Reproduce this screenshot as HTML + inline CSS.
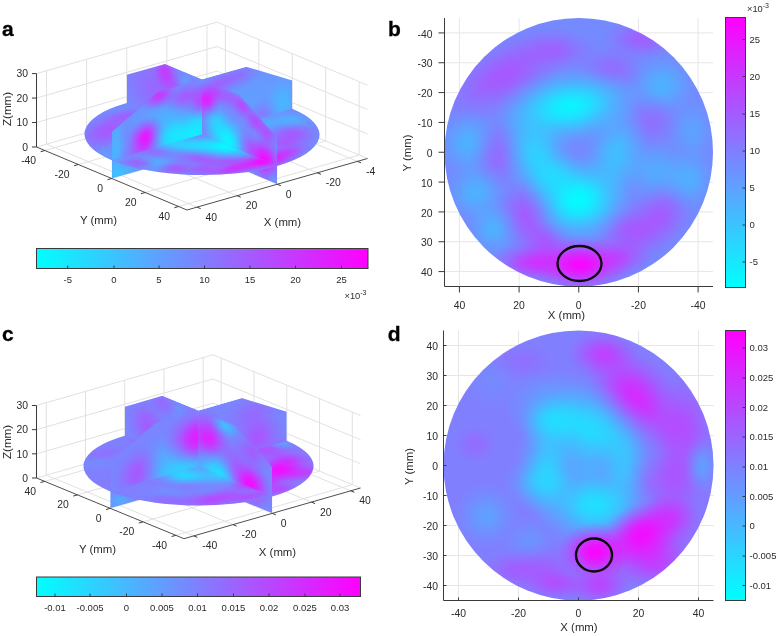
<!DOCTYPE html>
<html lang="en"><head><meta charset="utf-8"><title>Figure</title>
<style>html,body{margin:0;padding:0;background:#fff}svg{display:block}text{font-family:"Liberation Sans", sans-serif}</style>
</head><body>
<svg width="778" height="636" viewBox="0 0 778 636">
<rect width="778" height="636" fill="#fff"/>
<defs>
<radialGradient id="gm"><stop offset="0" stop-color="#ff00ff" stop-opacity="1"/><stop offset="0.1" stop-color="#ff00ff" stop-opacity="0.97"/><stop offset="0.2" stop-color="#ff00ff" stop-opacity="0.9"/><stop offset="0.3" stop-color="#ff00ff" stop-opacity="0.79"/><stop offset="0.4" stop-color="#ff00ff" stop-opacity="0.65"/><stop offset="0.5" stop-color="#ff00ff" stop-opacity="0.5"/><stop offset="0.6" stop-color="#ff00ff" stop-opacity="0.36"/><stop offset="0.7" stop-color="#ff00ff" stop-opacity="0.24"/><stop offset="0.8" stop-color="#ff00ff" stop-opacity="0.14"/><stop offset="0.9" stop-color="#ff00ff" stop-opacity="0.06"/><stop offset="1" stop-color="#ff00ff" stop-opacity="0"/></radialGradient>
<radialGradient id="gc"><stop offset="0" stop-color="#00ffff" stop-opacity="1"/><stop offset="0.1" stop-color="#00ffff" stop-opacity="0.97"/><stop offset="0.2" stop-color="#00ffff" stop-opacity="0.9"/><stop offset="0.3" stop-color="#00ffff" stop-opacity="0.79"/><stop offset="0.4" stop-color="#00ffff" stop-opacity="0.65"/><stop offset="0.5" stop-color="#00ffff" stop-opacity="0.5"/><stop offset="0.6" stop-color="#00ffff" stop-opacity="0.36"/><stop offset="0.7" stop-color="#00ffff" stop-opacity="0.24"/><stop offset="0.8" stop-color="#00ffff" stop-opacity="0.14"/><stop offset="0.9" stop-color="#00ffff" stop-opacity="0.06"/><stop offset="1" stop-color="#00ffff" stop-opacity="0"/></radialGradient>
<radialGradient id="gb"><stop offset="0" stop-color="#738cff" stop-opacity="1"/><stop offset="0.1" stop-color="#738cff" stop-opacity="0.97"/><stop offset="0.2" stop-color="#738cff" stop-opacity="0.9"/><stop offset="0.3" stop-color="#738cff" stop-opacity="0.79"/><stop offset="0.4" stop-color="#738cff" stop-opacity="0.65"/><stop offset="0.5" stop-color="#738cff" stop-opacity="0.5"/><stop offset="0.6" stop-color="#738cff" stop-opacity="0.36"/><stop offset="0.7" stop-color="#738cff" stop-opacity="0.24"/><stop offset="0.8" stop-color="#738cff" stop-opacity="0.14"/><stop offset="0.9" stop-color="#738cff" stop-opacity="0.06"/><stop offset="1" stop-color="#738cff" stop-opacity="0"/></radialGradient>
<linearGradient id="cbh" x1="0" x2="1" y1="0" y2="0"><stop offset="0" stop-color="#00ffff"/><stop offset="1" stop-color="#ff00ff"/></linearGradient>
<linearGradient id="cbv" x1="0" x2="0" y1="1" y2="0"><stop offset="0" stop-color="#00ffff"/><stop offset="1" stop-color="#ff00ff"/></linearGradient>
<g id="heatB"><rect x="-1" y="-1" width="92" height="92" fill="#758aff"/><ellipse cx="20" cy="19" rx="27.5" ry="12.5" fill="url(#gm)" opacity="0.36" transform="rotate(-30 20 19)"/>
<ellipse cx="38" cy="11" rx="15" ry="7.5" fill="url(#gm)" opacity="0.22"/>
<ellipse cx="66" cy="7" rx="13.75" ry="7.5" fill="url(#gm)" opacity="0.3"/>
<ellipse cx="56" cy="17" rx="12.5" ry="8.75" fill="url(#gm)" opacity="0.2"/>
<ellipse cx="73" cy="22.5" rx="12.5" ry="11.25" fill="url(#gc)" opacity="0.33"/>
<ellipse cx="69.6" cy="34.6" rx="10" ry="10" fill="url(#gm)" opacity="0.18"/>
<ellipse cx="8" cy="42" rx="11.25" ry="12.5" fill="url(#gc)" opacity="0.33"/>
<ellipse cx="18" cy="46" rx="10" ry="12.5" fill="url(#gm)" opacity="0.22"/>
<ellipse cx="28.5" cy="66.3" rx="12.5" ry="13.75" fill="url(#gm)" opacity="0.35" transform="rotate(-20 28.5 66.3)"/>
<ellipse cx="34" cy="75" rx="10" ry="7.5" fill="url(#gm)" opacity="0.3"/>
<ellipse cx="63.6" cy="71.8" rx="15" ry="11.25" fill="url(#gm)" opacity="0.36"/>
<ellipse cx="73" cy="65.7" rx="11.25" ry="11.25" fill="url(#gm)" opacity="0.3"/>
<ellipse cx="10.4" cy="58.5" rx="11.25" ry="11.25" fill="url(#gc)" opacity="0.33"/>
<ellipse cx="16.4" cy="70.6" rx="10" ry="10" fill="url(#gc)" opacity="0.33"/>
<ellipse cx="70.8" cy="51.2" rx="12.5" ry="11.25" fill="url(#gc)" opacity="0.28"/>
<ellipse cx="83" cy="38" rx="8.75" ry="12.5" fill="url(#gc)" opacity="0.2"/>
<ellipse cx="82" cy="54" rx="10" ry="11.25" fill="url(#gc)" opacity="0.3"/>
<ellipse cx="41.8" cy="29.7" rx="25" ry="13.12" fill="url(#gc)" opacity="0.9" transform="rotate(-8 41.8 29.7)"/>
<ellipse cx="31" cy="46" rx="12.5" ry="18.75" fill="url(#gc)" opacity="0.6" transform="rotate(-20 31 46)"/>
<ellipse cx="57.5" cy="46" rx="11.25" ry="17.5" fill="url(#gc)" opacity="0.45" transform="rotate(10 57.5 46)"/>
<ellipse cx="37" cy="53" rx="11.25" ry="8.75" fill="url(#gc)" opacity="0.4"/>
<ellipse cx="44.8" cy="60.9" rx="18.75" ry="15.62" fill="url(#gc)" opacity="0.97"/>
<ellipse cx="45.4" cy="82.7" rx="17.5" ry="10" fill="url(#gm)" opacity="0.95"/>
<ellipse cx="30" cy="82" rx="15" ry="7.5" fill="url(#gm)" opacity="0.6"/>
<ellipse cx="58" cy="80.5" rx="12.5" ry="7.5" fill="url(#gm)" opacity="0.4"/></g>
<g id="heatD"><rect x="-1" y="-1" width="92" height="92" fill="#8080ff"/><ellipse cx="76" cy="45" rx="20" ry="42.5" fill="url(#gm)" opacity="0.18"/>
<ellipse cx="26.4" cy="10.2" rx="12.5" ry="7.5" fill="url(#gm)" opacity="0.12"/>
<ellipse cx="16" cy="17" rx="10" ry="10" fill="url(#gc)" opacity="0.08"/>
<ellipse cx="10.7" cy="37.9" rx="8.75" ry="7.5" fill="url(#gm)" opacity="0.15"/>
<ellipse cx="14.3" cy="61.7" rx="11.25" ry="11.25" fill="url(#gc)" opacity="0.25"/>
<ellipse cx="28.7" cy="70.2" rx="10" ry="8.75" fill="url(#gc)" opacity="0.15"/>
<ellipse cx="22.7" cy="79.8" rx="11.25" ry="7.5" fill="url(#gm)" opacity="0.2"/>
<ellipse cx="38.4" cy="84.6" rx="12.5" ry="6.25" fill="url(#gm)" opacity="0.3"/>
<ellipse cx="80" cy="32" rx="11.25" ry="17.5" fill="url(#gm)" opacity="0.3"/>
<ellipse cx="77" cy="49" rx="10" ry="11.25" fill="url(#gm)" opacity="0.2"/>
<ellipse cx="63.7" cy="22.2" rx="13.75" ry="21.25" fill="url(#gm)" opacity="0.65" transform="rotate(-35 63.7 22.2)"/>
<ellipse cx="52.8" cy="7.8" rx="12.5" ry="8.75" fill="url(#gm)" opacity="0.45"/>
<ellipse cx="35" cy="45" rx="11.25" ry="20" fill="url(#gc)" opacity="0.55"/>
<ellipse cx="36" cy="30" rx="11.25" ry="8.75" fill="url(#gc)" opacity="0.45"/>
<ellipse cx="60" cy="46" rx="8.75" ry="15" fill="url(#gc)" opacity="0.4"/>
<ellipse cx="47" cy="45" rx="10" ry="10" fill="url(#gc)" opacity="0.2"/>
<ellipse cx="86" cy="45" rx="6.25" ry="10" fill="url(#gc)" opacity="0.3"/>
<ellipse cx="33" cy="80" rx="15" ry="10" fill="url(#gm)" opacity="0.25"/>
<ellipse cx="52" cy="85" rx="11.25" ry="7.5" fill="url(#gm)" opacity="0.45"/>
<ellipse cx="32.4" cy="50.9" rx="12.5" ry="10" fill="url(#gc)" opacity="0.4"/>
<ellipse cx="48" cy="32.5" rx="30" ry="16.25" fill="url(#gc)" opacity="0.72" transform="rotate(25 48 32.5)"/>
<ellipse cx="50.4" cy="58.1" rx="21.25" ry="15" fill="url(#gc)" opacity="0.75"/>
<ellipse cx="66" cy="71" rx="22.5" ry="13.75" fill="url(#gm)" opacity="0.5" transform="rotate(-25 66 71)"/>
<ellipse cx="70.9" cy="77.4" rx="12.5" ry="10" fill="url(#gm)" opacity="0.4"/>
<ellipse cx="75.7" cy="61.7" rx="10" ry="8.75" fill="url(#gm)" opacity="0.4"/>
<ellipse cx="66" cy="67.7" rx="13.75" ry="10" fill="url(#gm)" opacity="0.8" transform="rotate(-25 66 67.7)"/>
<ellipse cx="50.4" cy="73.8" rx="12.5" ry="10" fill="url(#gm)" opacity="0.95"/></g>
</defs>
<g shape-rendering="auto"><line x1="46.53" y1="144.14" x2="197.03" y2="207.14" stroke="#e1e1e1" stroke-width="1"/><line x1="44.86" y1="150.5" x2="225.36" y2="99" stroke="#e1e1e1" stroke-width="1"/><line x1="86.64" y1="132.69" x2="237.14" y2="195.69" stroke="#e1e1e1" stroke-width="1"/><line x1="78.31" y1="164.5" x2="258.81" y2="113" stroke="#e1e1e1" stroke-width="1"/><line x1="126.75" y1="121.25" x2="277.25" y2="184.25" stroke="#e1e1e1" stroke-width="1"/><line x1="111.75" y1="178.5" x2="292.25" y2="127" stroke="#e1e1e1" stroke-width="1"/><line x1="166.86" y1="109.81" x2="317.36" y2="172.81" stroke="#e1e1e1" stroke-width="1"/><line x1="145.19" y1="192.5" x2="325.69" y2="141" stroke="#e1e1e1" stroke-width="1"/><line x1="206.97" y1="98.36" x2="357.47" y2="161.36" stroke="#e1e1e1" stroke-width="1"/><line x1="178.64" y1="206.5" x2="359.14" y2="155" stroke="#e1e1e1" stroke-width="1"/><line x1="46.53" y1="144.14" x2="46.53" y2="70.74" stroke="#e1e1e1" stroke-width="1"/><line x1="225.36" y1="99" x2="225.36" y2="25.6" stroke="#e1e1e1" stroke-width="1"/><line x1="86.64" y1="132.69" x2="86.64" y2="59.29" stroke="#e1e1e1" stroke-width="1"/><line x1="258.81" y1="113" x2="258.81" y2="39.6" stroke="#e1e1e1" stroke-width="1"/><line x1="126.75" y1="121.25" x2="126.75" y2="47.85" stroke="#e1e1e1" stroke-width="1"/><line x1="292.25" y1="127" x2="292.25" y2="53.6" stroke="#e1e1e1" stroke-width="1"/><line x1="166.86" y1="109.81" x2="166.86" y2="36.41" stroke="#e1e1e1" stroke-width="1"/><line x1="325.69" y1="141" x2="325.69" y2="67.6" stroke="#e1e1e1" stroke-width="1"/><line x1="206.97" y1="98.36" x2="206.97" y2="24.96" stroke="#e1e1e1" stroke-width="1"/><line x1="359.14" y1="155" x2="359.14" y2="81.6" stroke="#e1e1e1" stroke-width="1"/><line x1="36.5" y1="147" x2="217" y2="95.5" stroke="#e1e1e1" stroke-width="1"/><line x1="217" y1="95.5" x2="367.5" y2="158.5" stroke="#e1e1e1" stroke-width="1"/><line x1="36.5" y1="122.53" x2="217" y2="71.03" stroke="#e1e1e1" stroke-width="1"/><line x1="217" y1="71.03" x2="367.5" y2="134.03" stroke="#e1e1e1" stroke-width="1"/><line x1="36.5" y1="98.07" x2="217" y2="46.57" stroke="#e1e1e1" stroke-width="1"/><line x1="217" y1="46.57" x2="367.5" y2="109.57" stroke="#e1e1e1" stroke-width="1"/><line x1="36.5" y1="73.6" x2="217" y2="22.1" stroke="#e1e1e1" stroke-width="1"/><line x1="217" y1="22.1" x2="367.5" y2="85.1" stroke="#e1e1e1" stroke-width="1"/></g>
<defs>
<clipPath id="adisc"><circle cx="45" cy="45" r="45"/></clipPath>
<clipPath id="aprof"><polygon points="0,0 0,19 23,30 67,30 90,19 90,0"/></clipPath>
<clipPath id="aq1"><rect x="45" y="-5" width="50" height="50"/></clipPath>
<clipPath id="aq2"><rect x="-5" y="-5" width="50" height="50"/></clipPath>
<clipPath id="aq3"><rect x="45" y="45" width="50" height="50"/></clipPath>
<clipPath id="aq4"><rect x="-5" y="45" width="50" height="50"/></clipPath>
<clipPath id="ahb"><rect x="-1" y="-1" width="46" height="40"/></clipPath>
<clipPath id="ahf"><rect x="45" y="-1" width="46" height="40"/></clipPath>
<g id="adiscg" clip-path="url(#adisc)"><use href="#heatB"/><ellipse cx="9" cy="42" rx="7.5" ry="10" fill="url(#gm)" opacity="0.3"/>
<ellipse cx="6" cy="54" rx="7.5" ry="10" fill="url(#gm)" opacity="0.35"/>
<ellipse cx="13.7" cy="68" rx="10" ry="10" fill="url(#gm)" opacity="0.45"/>
<ellipse cx="20" cy="75" rx="10" ry="8.75" fill="url(#gm)" opacity="0.4"/></g>
<g id="aplU" clip-path="url(#aprof)"><rect x="-1" y="-1" width="92" height="32" fill="#738cff"/><ellipse cx="22" cy="18" rx="34" ry="20" fill="url(#gm)" opacity="0.28"/>
<ellipse cx="23" cy="26.5" rx="8" ry="8" fill="url(#gm)" opacity="0.5"/>
<ellipse cx="30" cy="19" rx="8" ry="8" fill="url(#gm)" opacity="0.3"/>
<ellipse cx="36" cy="24.7" rx="8" ry="8" fill="url(#gc)" opacity="0.25"/>
<ellipse cx="41" cy="19.5" rx="8" ry="10" fill="url(#gm)" opacity="0.6"/>
<ellipse cx="48.3" cy="22" rx="8" ry="8" fill="url(#gm)" opacity="0.8"/>
<ellipse cx="53" cy="27" rx="8" ry="6" fill="url(#gm)" opacity="0.45"/>
<ellipse cx="61" cy="27.5" rx="8" ry="6" fill="url(#gm)" opacity="0.3"/>
<ellipse cx="69" cy="26" rx="8" ry="6" fill="url(#gm)" opacity="0.45"/>
<ellipse cx="77" cy="22" rx="8" ry="6" fill="url(#gm)" opacity="0.45"/>
<ellipse cx="84" cy="19" rx="8" ry="6" fill="url(#gm)" opacity="0.4"/>
<ellipse cx="71.4" cy="9.8" rx="10" ry="8" fill="url(#gm)" opacity="0.35"/>
<ellipse cx="53" cy="14.6" rx="10" ry="10" fill="url(#gc)" opacity="0.5"/>
<ellipse cx="60.5" cy="9.2" rx="14" ry="12" fill="url(#gc)" opacity="0.9"/>
<ellipse cx="82.4" cy="8" rx="12" ry="10" fill="url(#gm)" opacity="0.9"/>
<ellipse cx="87.5" cy="2.5" rx="6" ry="6" fill="url(#gc)" opacity="0.15"/></g>
<g id="aplV" clip-path="url(#aprof)"><rect x="-1" y="-1" width="92" height="32" fill="#738cff"/><ellipse cx="2" cy="10" rx="6" ry="24" fill="url(#gc)" opacity="0.35"/>
<ellipse cx="8" cy="2" rx="14" ry="6" fill="url(#gc)" opacity="0.5"/>
<ellipse cx="15" cy="5" rx="16" ry="8" fill="url(#gm)" opacity="0.3"/>
<ellipse cx="27" cy="19" rx="12" ry="8" fill="url(#gc)" opacity="0.2"/>
<ellipse cx="37" cy="25" rx="12" ry="6" fill="url(#gm)" opacity="0.35"/>
<ellipse cx="18" cy="21" rx="16" ry="8" fill="url(#gc)" opacity="0.15"/>
<ellipse cx="23.3" cy="28.5" rx="10" ry="6" fill="url(#gm)" opacity="0.6"/>
<ellipse cx="17" cy="12.5" rx="10" ry="9" fill="url(#gm)" opacity="0.85"/>
<ellipse cx="30.4" cy="10" rx="14" ry="12" fill="url(#gc)" opacity="0.7"/>
<ellipse cx="39.6" cy="8" rx="16" ry="12" fill="url(#gc)" opacity="0.75"/>
<ellipse cx="45" cy="12" rx="10" ry="12" fill="url(#gc)" opacity="0.55"/>
<ellipse cx="45" cy="21" rx="8" ry="8" fill="url(#gm)" opacity="0.55"/>
<ellipse cx="70" cy="15" rx="40" ry="24" fill="url(#gc)" opacity="0.15"/>
<ellipse cx="52" cy="25.5" rx="10" ry="6" fill="url(#gm)" opacity="0.3"/>
<ellipse cx="62" cy="27" rx="14" ry="6" fill="url(#gm)" opacity="0.25"/>
<ellipse cx="75" cy="8" rx="10" ry="8" fill="url(#gm)" opacity="0.2"/>
<ellipse cx="85.5" cy="11" rx="10" ry="12" fill="url(#gc)" opacity="0.3"/></g>
</defs>
<g transform="matrix(2.0056 -0.5722 1.6722 0.7 36.5 128.65)"><g clip-path="url(#aq1)"><use href="#adiscg"/></g></g>
<g transform="matrix(1.6722 0.7 0 -2.4467 126.75 121.25)"><g clip-path="url(#ahb)"><use href="#aplU"/></g></g>
<g transform="matrix(2.0056 -0.5722 0 -2.4467 111.75 178.5)"><g clip-path="url(#ahf)"><use href="#aplV"/></g></g>
<g transform="matrix(2.0056 -0.5722 1.6722 0.7 36.5 128.65)"><g clip-path="url(#aq2)"><use href="#adiscg"/></g></g>
<g transform="matrix(2.0056 -0.5722 1.6722 0.7 36.5 128.65)"><g clip-path="url(#aq3)"><use href="#adiscg"/></g></g>
<g transform="matrix(2.0056 -0.5722 0 -2.4467 111.75 178.5)"><g clip-path="url(#ahb)"><use href="#aplV"/></g></g>
<g transform="matrix(1.6722 0.7 0 -2.4467 126.75 121.25)"><g clip-path="url(#ahf)"><use href="#aplU"/></g></g>
<g transform="matrix(2.0056 -0.5722 1.6722 0.7 36.5 128.65)"><g clip-path="url(#aq4)"><use href="#adiscg"/></g></g>
<line x1="36.5" y1="147" x2="36.5" y2="73.6" stroke="#3a3a3a" stroke-width="1"/><line x1="36.5" y1="147" x2="187" y2="210" stroke="#3a3a3a" stroke-width="0.9"/><line x1="187" y1="210" x2="367.5" y2="158.5" stroke="#3a3a3a" stroke-width="0.9"/><line x1="36.5" y1="147" x2="32" y2="147" stroke="#3a3a3a" stroke-width="1"/><line x1="36.5" y1="122.53" x2="32" y2="122.53" stroke="#3a3a3a" stroke-width="1"/><line x1="36.5" y1="98.07" x2="32" y2="98.07" stroke="#3a3a3a" stroke-width="1"/><line x1="36.5" y1="73.6" x2="32" y2="73.6" stroke="#3a3a3a" stroke-width="1"/><line x1="44.86" y1="150.5" x2="40.66" y2="151.7" stroke="#3a3a3a" stroke-width="1"/><line x1="197.03" y1="207.14" x2="200.63" y2="208.64" stroke="#3a3a3a" stroke-width="1"/><line x1="78.31" y1="164.5" x2="74.11" y2="165.7" stroke="#3a3a3a" stroke-width="1"/><line x1="237.14" y1="195.69" x2="240.74" y2="197.19" stroke="#3a3a3a" stroke-width="1"/><line x1="111.75" y1="178.5" x2="107.55" y2="179.7" stroke="#3a3a3a" stroke-width="1"/><line x1="277.25" y1="184.25" x2="280.85" y2="185.75" stroke="#3a3a3a" stroke-width="1"/><line x1="145.19" y1="192.5" x2="140.99" y2="193.7" stroke="#3a3a3a" stroke-width="1"/><line x1="317.36" y1="172.81" x2="320.96" y2="174.31" stroke="#3a3a3a" stroke-width="1"/><line x1="178.64" y1="206.5" x2="174.44" y2="207.7" stroke="#3a3a3a" stroke-width="1"/><line x1="357.47" y1="161.36" x2="361.07" y2="162.86" stroke="#3a3a3a" stroke-width="1"/>
<text x="28" y="150.7" font-size="10.4" text-anchor="end" font-weight="normal" fill="#2b2b2b">0</text><text x="28" y="126.23" font-size="10.4" text-anchor="end" font-weight="normal" fill="#2b2b2b">10</text><text x="28" y="101.77" font-size="10.4" text-anchor="end" font-weight="normal" fill="#2b2b2b">20</text><text x="28" y="77.3" font-size="10.4" text-anchor="end" font-weight="normal" fill="#2b2b2b">30</text><text x="36.16" y="164.1" font-size="10.4" text-anchor="end" font-weight="normal" fill="#2b2b2b">-40</text><text x="69.61" y="178.1" font-size="10.4" text-anchor="end" font-weight="normal" fill="#2b2b2b">-20</text><text x="103.05" y="192.1" font-size="10.4" text-anchor="end" font-weight="normal" fill="#2b2b2b">0</text><text x="136.49" y="206.1" font-size="10.4" text-anchor="end" font-weight="normal" fill="#2b2b2b">20</text><text x="169.94" y="220.1" font-size="10.4" text-anchor="end" font-weight="normal" fill="#2b2b2b">40</text><text x="205.53" y="220.74" font-size="10.4" text-anchor="start" font-weight="normal" fill="#2b2b2b">40</text><text x="245.64" y="209.29" font-size="10.4" text-anchor="start" font-weight="normal" fill="#2b2b2b">20</text><text x="285.75" y="197.85" font-size="10.4" text-anchor="start" font-weight="normal" fill="#2b2b2b">0</text><text x="325.86" y="186.41" font-size="10.4" text-anchor="start" font-weight="normal" fill="#2b2b2b">-20</text><text x="365.97" y="174.96" font-size="10.4" text-anchor="start" font-weight="normal" fill="#2b2b2b">-4</text><text x="98.5" y="224" font-size="11.4" text-anchor="middle" font-weight="normal" fill="#2b2b2b">Y (mm)</text><text x="282.5" y="226" font-size="11.4" text-anchor="middle" font-weight="normal" fill="#2b2b2b">X (mm)</text><text transform="translate(11 109) rotate(-90)" font-size="11.6" text-anchor="middle" fill="#2b2b2b">Z(mm)</text>
<rect x="36.5" y="248.5" width="331.5" height="20" fill="url(#cbh)" stroke="#3a3a3a" stroke-width="1"/>
<line x1="67.7" y1="268.5" x2="67.7" y2="265.5" stroke="#3a3a3a" stroke-width="1"/>
<text x="67.7" y="283" font-size="9.5" text-anchor="middle" font-weight="normal" fill="#2b2b2b">-5</text>
<line x1="114" y1="268.5" x2="114" y2="265.5" stroke="#3a3a3a" stroke-width="1"/>
<text x="114" y="283" font-size="9.5" text-anchor="middle" font-weight="normal" fill="#2b2b2b">0</text>
<line x1="159" y1="268.5" x2="159" y2="265.5" stroke="#3a3a3a" stroke-width="1"/>
<text x="159" y="283" font-size="9.5" text-anchor="middle" font-weight="normal" fill="#2b2b2b">5</text>
<line x1="204.5" y1="268.5" x2="204.5" y2="265.5" stroke="#3a3a3a" stroke-width="1"/>
<text x="204.5" y="283" font-size="9.5" text-anchor="middle" font-weight="normal" fill="#2b2b2b">10</text>
<line x1="250" y1="268.5" x2="250" y2="265.5" stroke="#3a3a3a" stroke-width="1"/>
<text x="250" y="283" font-size="9.5" text-anchor="middle" font-weight="normal" fill="#2b2b2b">15</text>
<line x1="295.5" y1="268.5" x2="295.5" y2="265.5" stroke="#3a3a3a" stroke-width="1"/>
<text x="295.5" y="283" font-size="9.5" text-anchor="middle" font-weight="normal" fill="#2b2b2b">20</text>
<line x1="341.5" y1="268.5" x2="341.5" y2="265.5" stroke="#3a3a3a" stroke-width="1"/>
<text x="341.5" y="283" font-size="9.5" text-anchor="middle" font-weight="normal" fill="#2b2b2b">25</text>
<text x="344.5" y="298.5" font-size="9.3" fill="#2b2b2b">×10<tspan dy="-3.8" font-size="7">-3</tspan></text>
<text x="2" y="36" font-size="21" text-anchor="start" font-weight="bold" fill="#000" stroke="#000" stroke-width="0.3">a</text>
<line x1="459.42" y1="18" x2="459.42" y2="286.5" stroke="#e6e6e6" stroke-width="1"/><line x1="519.08" y1="18" x2="519.08" y2="286.5" stroke="#e6e6e6" stroke-width="1"/><line x1="578.75" y1="18" x2="578.75" y2="286.5" stroke="#e6e6e6" stroke-width="1"/><line x1="638.42" y1="18" x2="638.42" y2="286.5" stroke="#e6e6e6" stroke-width="1"/><line x1="698.08" y1="18" x2="698.08" y2="286.5" stroke="#e6e6e6" stroke-width="1"/><line x1="444.5" y1="32.92" x2="713" y2="32.92" stroke="#e6e6e6" stroke-width="1"/><line x1="444.5" y1="62.75" x2="713" y2="62.75" stroke="#e6e6e6" stroke-width="1"/><line x1="444.5" y1="92.58" x2="713" y2="92.58" stroke="#e6e6e6" stroke-width="1"/><line x1="444.5" y1="122.42" x2="713" y2="122.42" stroke="#e6e6e6" stroke-width="1"/><line x1="444.5" y1="152.25" x2="713" y2="152.25" stroke="#e6e6e6" stroke-width="1"/><line x1="444.5" y1="182.08" x2="713" y2="182.08" stroke="#e6e6e6" stroke-width="1"/><line x1="444.5" y1="211.92" x2="713" y2="211.92" stroke="#e6e6e6" stroke-width="1"/><line x1="444.5" y1="241.75" x2="713" y2="241.75" stroke="#e6e6e6" stroke-width="1"/><line x1="444.5" y1="271.58" x2="713" y2="271.58" stroke="#e6e6e6" stroke-width="1"/>
<defs><clipPath id="bdisc"><circle cx="45" cy="45" r="45"/></clipPath></defs>
<g transform="translate(444.5 18) scale(2.9833)"><g clip-path="url(#bdisc)"><use href="#heatB"/></g></g>
<line x1="444.5" y1="18" x2="444.5" y2="286.5" stroke="#3a3a3a" stroke-width="1"/>
<line x1="444.5" y1="286.5" x2="713" y2="286.5" stroke="#3a3a3a" stroke-width="1"/>
<line x1="459.42" y1="286.5" x2="459.42" y2="292.5" stroke="#3a3a3a" stroke-width="1"/>
<text x="459.42" y="308.5" font-size="10.4" text-anchor="middle" font-weight="normal" fill="#2b2b2b">40</text>
<line x1="519.08" y1="286.5" x2="519.08" y2="292.5" stroke="#3a3a3a" stroke-width="1"/>
<text x="519.08" y="308.5" font-size="10.4" text-anchor="middle" font-weight="normal" fill="#2b2b2b">20</text>
<line x1="578.75" y1="286.5" x2="578.75" y2="292.5" stroke="#3a3a3a" stroke-width="1"/>
<text x="578.75" y="308.5" font-size="10.4" text-anchor="middle" font-weight="normal" fill="#2b2b2b">0</text>
<line x1="638.42" y1="286.5" x2="638.42" y2="292.5" stroke="#3a3a3a" stroke-width="1"/>
<text x="638.42" y="308.5" font-size="10.4" text-anchor="middle" font-weight="normal" fill="#2b2b2b">-20</text>
<line x1="698.08" y1="286.5" x2="698.08" y2="292.5" stroke="#3a3a3a" stroke-width="1"/>
<text x="698.08" y="308.5" font-size="10.4" text-anchor="middle" font-weight="normal" fill="#2b2b2b">-40</text>
<line x1="444.5" y1="32.92" x2="438.5" y2="32.92" stroke="#3a3a3a" stroke-width="1"/>
<text x="432.5" y="37.62" font-size="10.4" text-anchor="end" font-weight="normal" fill="#2b2b2b">-40</text>
<line x1="444.5" y1="62.75" x2="438.5" y2="62.75" stroke="#3a3a3a" stroke-width="1"/>
<text x="432.5" y="67.45" font-size="10.4" text-anchor="end" font-weight="normal" fill="#2b2b2b">-30</text>
<line x1="444.5" y1="92.58" x2="438.5" y2="92.58" stroke="#3a3a3a" stroke-width="1"/>
<text x="432.5" y="97.28" font-size="10.4" text-anchor="end" font-weight="normal" fill="#2b2b2b">-20</text>
<line x1="444.5" y1="122.42" x2="438.5" y2="122.42" stroke="#3a3a3a" stroke-width="1"/>
<text x="432.5" y="127.12" font-size="10.4" text-anchor="end" font-weight="normal" fill="#2b2b2b">-10</text>
<line x1="444.5" y1="152.25" x2="438.5" y2="152.25" stroke="#3a3a3a" stroke-width="1"/>
<text x="432.5" y="156.95" font-size="10.4" text-anchor="end" font-weight="normal" fill="#2b2b2b">0</text>
<line x1="444.5" y1="182.08" x2="438.5" y2="182.08" stroke="#3a3a3a" stroke-width="1"/>
<text x="432.5" y="186.78" font-size="10.4" text-anchor="end" font-weight="normal" fill="#2b2b2b">10</text>
<line x1="444.5" y1="211.92" x2="438.5" y2="211.92" stroke="#3a3a3a" stroke-width="1"/>
<text x="432.5" y="216.62" font-size="10.4" text-anchor="end" font-weight="normal" fill="#2b2b2b">20</text>
<line x1="444.5" y1="241.75" x2="438.5" y2="241.75" stroke="#3a3a3a" stroke-width="1"/>
<text x="432.5" y="246.45" font-size="10.4" text-anchor="end" font-weight="normal" fill="#2b2b2b">30</text>
<line x1="444.5" y1="271.58" x2="438.5" y2="271.58" stroke="#3a3a3a" stroke-width="1"/>
<text x="432.5" y="276.28" font-size="10.4" text-anchor="end" font-weight="normal" fill="#2b2b2b">40</text>
<ellipse cx="579.5" cy="263.5" rx="22" ry="17.5" fill="none" stroke="#0a0a0a" stroke-width="2.4"/>
<text x="566.5" y="319" font-size="11.4" text-anchor="middle" font-weight="normal" fill="#2b2b2b">X (mm)</text>
<text transform="translate(411 153) rotate(-90)" font-size="11.4" text-anchor="middle" fill="#2b2b2b">Y (mm)</text>
<rect x="725.5" y="17.5" width="20" height="270" fill="url(#cbv)" stroke="#3a3a3a" stroke-width="1"/>
<line x1="745.5" y1="39.5" x2="742.5" y2="39.5" stroke="#3a3a3a" stroke-width="1"/>
<text x="749.5" y="42.9" font-size="9.5" text-anchor="start" font-weight="normal" fill="#2b2b2b">25</text>
<line x1="745.5" y1="76.5" x2="742.5" y2="76.5" stroke="#3a3a3a" stroke-width="1"/>
<text x="749.5" y="79.9" font-size="9.5" text-anchor="start" font-weight="normal" fill="#2b2b2b">20</text>
<line x1="745.5" y1="114" x2="742.5" y2="114" stroke="#3a3a3a" stroke-width="1"/>
<text x="749.5" y="117.4" font-size="9.5" text-anchor="start" font-weight="normal" fill="#2b2b2b">15</text>
<line x1="745.5" y1="151" x2="742.5" y2="151" stroke="#3a3a3a" stroke-width="1"/>
<text x="749.5" y="154.4" font-size="9.5" text-anchor="start" font-weight="normal" fill="#2b2b2b">10</text>
<line x1="745.5" y1="188" x2="742.5" y2="188" stroke="#3a3a3a" stroke-width="1"/>
<text x="749.5" y="191.4" font-size="9.5" text-anchor="start" font-weight="normal" fill="#2b2b2b">5</text>
<line x1="745.5" y1="225" x2="742.5" y2="225" stroke="#3a3a3a" stroke-width="1"/>
<text x="749.5" y="228.4" font-size="9.5" text-anchor="start" font-weight="normal" fill="#2b2b2b">0</text>
<line x1="745.5" y1="262" x2="742.5" y2="262" stroke="#3a3a3a" stroke-width="1"/>
<text x="749.5" y="265.4" font-size="9.5" text-anchor="start" font-weight="normal" fill="#2b2b2b">-5</text>
<text x="747" y="12" font-size="9.3" fill="#2b2b2b">×10<tspan dy="-3.8" font-size="7">-3</tspan></text>
<text x="388" y="36" font-size="21" text-anchor="start" font-weight="bold" fill="#000" stroke="#000" stroke-width="0.3">b</text>
<g shape-rendering="auto"><line x1="46.31" y1="475.18" x2="193.81" y2="535.88" stroke="#e1e1e1" stroke-width="1"/><line x1="44.69" y1="481.37" x2="221.19" y2="430.67" stroke="#e1e1e1" stroke-width="1"/><line x1="85.53" y1="463.92" x2="233.03" y2="524.62" stroke="#e1e1e1" stroke-width="1"/><line x1="77.47" y1="494.86" x2="253.97" y2="444.16" stroke="#e1e1e1" stroke-width="1"/><line x1="124.75" y1="452.65" x2="272.25" y2="513.35" stroke="#e1e1e1" stroke-width="1"/><line x1="110.25" y1="508.35" x2="286.75" y2="457.65" stroke="#e1e1e1" stroke-width="1"/><line x1="163.97" y1="441.38" x2="311.47" y2="502.08" stroke="#e1e1e1" stroke-width="1"/><line x1="143.03" y1="521.84" x2="319.53" y2="471.14" stroke="#e1e1e1" stroke-width="1"/><line x1="203.19" y1="430.12" x2="350.69" y2="490.82" stroke="#e1e1e1" stroke-width="1"/><line x1="175.81" y1="535.33" x2="352.31" y2="484.63" stroke="#e1e1e1" stroke-width="1"/><line x1="46.31" y1="475.18" x2="46.31" y2="402.68" stroke="#e1e1e1" stroke-width="1"/><line x1="221.19" y1="430.67" x2="221.19" y2="358.17" stroke="#e1e1e1" stroke-width="1"/><line x1="85.53" y1="463.92" x2="85.53" y2="391.42" stroke="#e1e1e1" stroke-width="1"/><line x1="253.97" y1="444.16" x2="253.97" y2="371.66" stroke="#e1e1e1" stroke-width="1"/><line x1="124.75" y1="452.65" x2="124.75" y2="380.15" stroke="#e1e1e1" stroke-width="1"/><line x1="286.75" y1="457.65" x2="286.75" y2="385.15" stroke="#e1e1e1" stroke-width="1"/><line x1="163.97" y1="441.38" x2="163.97" y2="368.88" stroke="#e1e1e1" stroke-width="1"/><line x1="319.53" y1="471.14" x2="319.53" y2="398.64" stroke="#e1e1e1" stroke-width="1"/><line x1="203.19" y1="430.12" x2="203.19" y2="357.62" stroke="#e1e1e1" stroke-width="1"/><line x1="352.31" y1="484.63" x2="352.31" y2="412.13" stroke="#e1e1e1" stroke-width="1"/><line x1="36.5" y1="478" x2="213" y2="427.3" stroke="#e1e1e1" stroke-width="1"/><line x1="213" y1="427.3" x2="360.5" y2="488" stroke="#e1e1e1" stroke-width="1"/><line x1="36.5" y1="453.83" x2="213" y2="403.13" stroke="#e1e1e1" stroke-width="1"/><line x1="213" y1="403.13" x2="360.5" y2="463.83" stroke="#e1e1e1" stroke-width="1"/><line x1="36.5" y1="429.67" x2="213" y2="378.97" stroke="#e1e1e1" stroke-width="1"/><line x1="213" y1="378.97" x2="360.5" y2="439.67" stroke="#e1e1e1" stroke-width="1"/><line x1="36.5" y1="405.5" x2="213" y2="354.8" stroke="#e1e1e1" stroke-width="1"/><line x1="213" y1="354.8" x2="360.5" y2="415.5" stroke="#e1e1e1" stroke-width="1"/></g>
<defs>
<clipPath id="cdisc"><circle cx="45" cy="45" r="45"/></clipPath>
<clipPath id="cprof"><polygon points="0,0 0,19 23,30 67,30 90,19 90,0"/></clipPath>
<clipPath id="cq1"><rect x="45" y="-5" width="50" height="50"/></clipPath>
<clipPath id="cq2"><rect x="-5" y="-5" width="50" height="50"/></clipPath>
<clipPath id="cq3"><rect x="45" y="45" width="50" height="50"/></clipPath>
<clipPath id="cq4"><rect x="-5" y="45" width="50" height="50"/></clipPath>
<clipPath id="chb"><rect x="-1" y="-1" width="46" height="40"/></clipPath>
<clipPath id="chf"><rect x="45" y="-1" width="46" height="40"/></clipPath>
<g id="cdiscg" clip-path="url(#cdisc)"><use href="#heatD"/><ellipse cx="12" cy="65" rx="10" ry="12.5" fill="url(#gm)" opacity="0.25"/>
<ellipse cx="25" cy="75" rx="17.5" ry="10" fill="url(#gm)" opacity="0.3"/></g>
<g id="cplU" clip-path="url(#cprof)"><rect x="-1" y="-1" width="92" height="32" fill="#7a85ff"/><ellipse cx="14" cy="15" rx="14" ry="12" fill="url(#gm)" opacity="0.3"/>
<ellipse cx="22.7" cy="26.8" rx="10" ry="6" fill="url(#gm)" opacity="0.2"/>
<ellipse cx="35" cy="25" rx="8" ry="8" fill="url(#gc)" opacity="0.15"/>
<ellipse cx="40" cy="20" rx="10" ry="12" fill="url(#gm)" opacity="0.4"/>
<ellipse cx="51" cy="19" rx="14" ry="14" fill="url(#gm)" opacity="0.75"/>
<ellipse cx="61.3" cy="28" rx="10" ry="5" fill="url(#gc)" opacity="0.45"/>
<ellipse cx="56.3" cy="6.4" rx="20" ry="14" fill="url(#gc)" opacity="0.75"/>
<ellipse cx="66" cy="14" rx="10" ry="10" fill="url(#gm)" opacity="0.3"/>
<ellipse cx="77.4" cy="21.6" rx="12" ry="8" fill="url(#gm)" opacity="0.3"/>
<ellipse cx="76.2" cy="8.6" rx="14" ry="10" fill="url(#gm)" opacity="0.9"/></g>
<g id="cplV" clip-path="url(#cprof)"><rect x="-1" y="-1" width="92" height="32" fill="#7a85ff"/><ellipse cx="5.3" cy="2.3" rx="10" ry="6" fill="url(#gc)" opacity="0.3"/>
<ellipse cx="14.8" cy="11.1" rx="14" ry="12" fill="url(#gm)" opacity="0.35"/>
<ellipse cx="26.3" cy="17" rx="12" ry="10" fill="url(#gc)" opacity="0.15"/>
<ellipse cx="39.8" cy="4" rx="20" ry="10" fill="url(#gc)" opacity="0.55"/>
<ellipse cx="32" cy="9" rx="20" ry="12" fill="url(#gc)" opacity="0.45"/>
<ellipse cx="42" cy="20" rx="16" ry="12" fill="url(#gm)" opacity="0.5"/>
<ellipse cx="45" cy="18.5" rx="10" ry="10" fill="url(#gm)" opacity="0.6"/>
<ellipse cx="72.3" cy="21.6" rx="16" ry="10" fill="url(#gm)" opacity="0.2"/>
<ellipse cx="75.4" cy="11.6" rx="14" ry="10" fill="url(#gm)" opacity="0.35"/>
<ellipse cx="85.9" cy="3.2" rx="10" ry="8" fill="url(#gm)" opacity="0.25"/></g>
</defs>
<g transform="matrix(1.9611 -0.5633 1.6389 0.6744 36.5 461.08)"><g clip-path="url(#cq1)"><use href="#cdiscg"/></g></g>
<g transform="matrix(1.6389 0.6744 0 -2.4167 124.75 452.65)"><g clip-path="url(#chb)"><use href="#cplU"/></g></g>
<g transform="matrix(1.9611 -0.5633 0 -2.4167 110.25 508.35)"><g clip-path="url(#chf)"><use href="#cplV"/></g></g>
<g transform="matrix(1.9611 -0.5633 1.6389 0.6744 36.5 461.08)"><g clip-path="url(#cq2)"><use href="#cdiscg"/></g></g>
<g transform="matrix(1.9611 -0.5633 1.6389 0.6744 36.5 461.08)"><g clip-path="url(#cq3)"><use href="#cdiscg"/></g></g>
<g transform="matrix(1.9611 -0.5633 0 -2.4167 110.25 508.35)"><g clip-path="url(#chb)"><use href="#cplV"/></g></g>
<g transform="matrix(1.6389 0.6744 0 -2.4167 124.75 452.65)"><g clip-path="url(#chf)"><use href="#cplU"/></g></g>
<g transform="matrix(1.9611 -0.5633 1.6389 0.6744 36.5 461.08)"><g clip-path="url(#cq4)"><use href="#cdiscg"/></g></g>
<line x1="36.5" y1="478" x2="36.5" y2="405.5" stroke="#3a3a3a" stroke-width="1"/><line x1="36.5" y1="478" x2="184" y2="538.7" stroke="#3a3a3a" stroke-width="0.9"/><line x1="184" y1="538.7" x2="360.5" y2="488" stroke="#3a3a3a" stroke-width="0.9"/><line x1="36.5" y1="478" x2="32" y2="478" stroke="#3a3a3a" stroke-width="1"/><line x1="36.5" y1="453.83" x2="32" y2="453.83" stroke="#3a3a3a" stroke-width="1"/><line x1="36.5" y1="429.67" x2="32" y2="429.67" stroke="#3a3a3a" stroke-width="1"/><line x1="36.5" y1="405.5" x2="32" y2="405.5" stroke="#3a3a3a" stroke-width="1"/><line x1="44.69" y1="481.37" x2="40.49" y2="482.57" stroke="#3a3a3a" stroke-width="1"/><line x1="193.81" y1="535.88" x2="197.41" y2="537.38" stroke="#3a3a3a" stroke-width="1"/><line x1="77.47" y1="494.86" x2="73.27" y2="496.06" stroke="#3a3a3a" stroke-width="1"/><line x1="233.03" y1="524.62" x2="236.63" y2="526.12" stroke="#3a3a3a" stroke-width="1"/><line x1="110.25" y1="508.35" x2="106.05" y2="509.55" stroke="#3a3a3a" stroke-width="1"/><line x1="272.25" y1="513.35" x2="275.85" y2="514.85" stroke="#3a3a3a" stroke-width="1"/><line x1="143.03" y1="521.84" x2="138.83" y2="523.04" stroke="#3a3a3a" stroke-width="1"/><line x1="311.47" y1="502.08" x2="315.07" y2="503.58" stroke="#3a3a3a" stroke-width="1"/><line x1="175.81" y1="535.33" x2="171.61" y2="536.53" stroke="#3a3a3a" stroke-width="1"/><line x1="350.69" y1="490.82" x2="354.29" y2="492.32" stroke="#3a3a3a" stroke-width="1"/>
<text x="28" y="481.7" font-size="10.4" text-anchor="end" font-weight="normal" fill="#2b2b2b">0</text><text x="28" y="457.53" font-size="10.4" text-anchor="end" font-weight="normal" fill="#2b2b2b">10</text><text x="28" y="433.37" font-size="10.4" text-anchor="end" font-weight="normal" fill="#2b2b2b">20</text><text x="28" y="409.2" font-size="10.4" text-anchor="end" font-weight="normal" fill="#2b2b2b">30</text><text x="35.99" y="494.97" font-size="10.4" text-anchor="end" font-weight="normal" fill="#2b2b2b">40</text><text x="68.77" y="508.46" font-size="10.4" text-anchor="end" font-weight="normal" fill="#2b2b2b">20</text><text x="101.55" y="521.95" font-size="10.4" text-anchor="end" font-weight="normal" fill="#2b2b2b">0</text><text x="134.33" y="535.44" font-size="10.4" text-anchor="end" font-weight="normal" fill="#2b2b2b">-20</text><text x="167.11" y="548.93" font-size="10.4" text-anchor="end" font-weight="normal" fill="#2b2b2b">-40</text><text x="202.31" y="549.48" font-size="10.4" text-anchor="start" font-weight="normal" fill="#2b2b2b">-40</text><text x="241.53" y="538.22" font-size="10.4" text-anchor="start" font-weight="normal" fill="#2b2b2b">-20</text><text x="280.75" y="526.95" font-size="10.4" text-anchor="start" font-weight="normal" fill="#2b2b2b">0</text><text x="319.97" y="515.68" font-size="10.4" text-anchor="start" font-weight="normal" fill="#2b2b2b">20</text><text x="359.19" y="504.42" font-size="10.4" text-anchor="start" font-weight="normal" fill="#2b2b2b">40</text><text x="97.5" y="553" font-size="11.4" text-anchor="middle" font-weight="normal" fill="#2b2b2b">Y (mm)</text><text x="277.5" y="555.5" font-size="11.4" text-anchor="middle" font-weight="normal" fill="#2b2b2b">X (mm)</text><text transform="translate(11 442) rotate(-90)" font-size="11.6" text-anchor="middle" fill="#2b2b2b">Z(mm)</text>
<rect x="36.5" y="577" width="324" height="19.5" fill="url(#cbh)" stroke="#3a3a3a" stroke-width="1"/>
<line x1="55" y1="596.5" x2="55" y2="593.5" stroke="#3a3a3a" stroke-width="1"/>
<text x="55" y="610.5" font-size="9.5" text-anchor="middle" font-weight="normal" fill="#2b2b2b">-0.01</text>
<line x1="90" y1="596.5" x2="90" y2="593.5" stroke="#3a3a3a" stroke-width="1"/>
<text x="90" y="610.5" font-size="9.5" text-anchor="middle" font-weight="normal" fill="#2b2b2b">-0.005</text>
<line x1="126.5" y1="596.5" x2="126.5" y2="593.5" stroke="#3a3a3a" stroke-width="1"/>
<text x="126.5" y="610.5" font-size="9.5" text-anchor="middle" font-weight="normal" fill="#2b2b2b">0</text>
<line x1="162" y1="596.5" x2="162" y2="593.5" stroke="#3a3a3a" stroke-width="1"/>
<text x="162" y="610.5" font-size="9.5" text-anchor="middle" font-weight="normal" fill="#2b2b2b">0.005</text>
<line x1="197.5" y1="596.5" x2="197.5" y2="593.5" stroke="#3a3a3a" stroke-width="1"/>
<text x="197.5" y="610.5" font-size="9.5" text-anchor="middle" font-weight="normal" fill="#2b2b2b">0.01</text>
<line x1="233.5" y1="596.5" x2="233.5" y2="593.5" stroke="#3a3a3a" stroke-width="1"/>
<text x="233.5" y="610.5" font-size="9.5" text-anchor="middle" font-weight="normal" fill="#2b2b2b">0.015</text>
<line x1="269" y1="596.5" x2="269" y2="593.5" stroke="#3a3a3a" stroke-width="1"/>
<text x="269" y="610.5" font-size="9.5" text-anchor="middle" font-weight="normal" fill="#2b2b2b">0.02</text>
<line x1="305" y1="596.5" x2="305" y2="593.5" stroke="#3a3a3a" stroke-width="1"/>
<text x="305" y="610.5" font-size="9.5" text-anchor="middle" font-weight="normal" fill="#2b2b2b">0.025</text>
<line x1="340" y1="596.5" x2="340" y2="593.5" stroke="#3a3a3a" stroke-width="1"/>
<text x="340" y="610.5" font-size="9.5" text-anchor="middle" font-weight="normal" fill="#2b2b2b">0.03</text>
<text x="2" y="341" font-size="21" text-anchor="start" font-weight="bold" fill="#000" stroke="#000" stroke-width="0.3">c</text>
<line x1="458.5" y1="330.5" x2="458.5" y2="600.5" stroke="#e6e6e6" stroke-width="1"/><line x1="518.5" y1="330.5" x2="518.5" y2="600.5" stroke="#e6e6e6" stroke-width="1"/><line x1="578.5" y1="330.5" x2="578.5" y2="600.5" stroke="#e6e6e6" stroke-width="1"/><line x1="638.5" y1="330.5" x2="638.5" y2="600.5" stroke="#e6e6e6" stroke-width="1"/><line x1="698.5" y1="330.5" x2="698.5" y2="600.5" stroke="#e6e6e6" stroke-width="1"/><line x1="443.5" y1="345.5" x2="713.5" y2="345.5" stroke="#e6e6e6" stroke-width="1"/><line x1="443.5" y1="375.5" x2="713.5" y2="375.5" stroke="#e6e6e6" stroke-width="1"/><line x1="443.5" y1="405.5" x2="713.5" y2="405.5" stroke="#e6e6e6" stroke-width="1"/><line x1="443.5" y1="435.5" x2="713.5" y2="435.5" stroke="#e6e6e6" stroke-width="1"/><line x1="443.5" y1="465.5" x2="713.5" y2="465.5" stroke="#e6e6e6" stroke-width="1"/><line x1="443.5" y1="495.5" x2="713.5" y2="495.5" stroke="#e6e6e6" stroke-width="1"/><line x1="443.5" y1="525.5" x2="713.5" y2="525.5" stroke="#e6e6e6" stroke-width="1"/><line x1="443.5" y1="555.5" x2="713.5" y2="555.5" stroke="#e6e6e6" stroke-width="1"/><line x1="443.5" y1="585.5" x2="713.5" y2="585.5" stroke="#e6e6e6" stroke-width="1"/>
<defs><clipPath id="ddisc"><circle cx="45" cy="45" r="45"/></clipPath></defs>
<g transform="translate(443.5 330.5) scale(3)"><g clip-path="url(#ddisc)"><use href="#heatD"/></g></g>
<line x1="443.5" y1="330.5" x2="443.5" y2="600.5" stroke="#3a3a3a" stroke-width="1"/>
<line x1="443.5" y1="600.5" x2="713.5" y2="600.5" stroke="#3a3a3a" stroke-width="1"/>
<line x1="458.5" y1="600.5" x2="458.5" y2="597.5" stroke="#3a3a3a" stroke-width="1"/>
<text x="458.5" y="617" font-size="10.4" text-anchor="middle" font-weight="normal" fill="#2b2b2b">-40</text>
<line x1="518.5" y1="600.5" x2="518.5" y2="597.5" stroke="#3a3a3a" stroke-width="1"/>
<text x="518.5" y="617" font-size="10.4" text-anchor="middle" font-weight="normal" fill="#2b2b2b">-20</text>
<line x1="578.5" y1="600.5" x2="578.5" y2="597.5" stroke="#3a3a3a" stroke-width="1"/>
<text x="578.5" y="617" font-size="10.4" text-anchor="middle" font-weight="normal" fill="#2b2b2b">0</text>
<line x1="638.5" y1="600.5" x2="638.5" y2="597.5" stroke="#3a3a3a" stroke-width="1"/>
<text x="638.5" y="617" font-size="10.4" text-anchor="middle" font-weight="normal" fill="#2b2b2b">20</text>
<line x1="698.5" y1="600.5" x2="698.5" y2="597.5" stroke="#3a3a3a" stroke-width="1"/>
<text x="698.5" y="617" font-size="10.4" text-anchor="middle" font-weight="normal" fill="#2b2b2b">40</text>
<line x1="443.5" y1="345.5" x2="446.5" y2="345.5" stroke="#3a3a3a" stroke-width="1"/>
<text x="438" y="350.2" font-size="10.4" text-anchor="end" font-weight="normal" fill="#2b2b2b">40</text>
<line x1="443.5" y1="375.5" x2="446.5" y2="375.5" stroke="#3a3a3a" stroke-width="1"/>
<text x="438" y="380.2" font-size="10.4" text-anchor="end" font-weight="normal" fill="#2b2b2b">30</text>
<line x1="443.5" y1="405.5" x2="446.5" y2="405.5" stroke="#3a3a3a" stroke-width="1"/>
<text x="438" y="410.2" font-size="10.4" text-anchor="end" font-weight="normal" fill="#2b2b2b">20</text>
<line x1="443.5" y1="435.5" x2="446.5" y2="435.5" stroke="#3a3a3a" stroke-width="1"/>
<text x="438" y="440.2" font-size="10.4" text-anchor="end" font-weight="normal" fill="#2b2b2b">10</text>
<line x1="443.5" y1="465.5" x2="446.5" y2="465.5" stroke="#3a3a3a" stroke-width="1"/>
<text x="438" y="470.2" font-size="10.4" text-anchor="end" font-weight="normal" fill="#2b2b2b">0</text>
<line x1="443.5" y1="495.5" x2="446.5" y2="495.5" stroke="#3a3a3a" stroke-width="1"/>
<text x="438" y="500.2" font-size="10.4" text-anchor="end" font-weight="normal" fill="#2b2b2b">-10</text>
<line x1="443.5" y1="525.5" x2="446.5" y2="525.5" stroke="#3a3a3a" stroke-width="1"/>
<text x="438" y="530.2" font-size="10.4" text-anchor="end" font-weight="normal" fill="#2b2b2b">-20</text>
<line x1="443.5" y1="555.5" x2="446.5" y2="555.5" stroke="#3a3a3a" stroke-width="1"/>
<text x="438" y="560.2" font-size="10.4" text-anchor="end" font-weight="normal" fill="#2b2b2b">-30</text>
<line x1="443.5" y1="585.5" x2="446.5" y2="585.5" stroke="#3a3a3a" stroke-width="1"/>
<text x="438" y="590.2" font-size="10.4" text-anchor="end" font-weight="normal" fill="#2b2b2b">-40</text>
<ellipse cx="594" cy="555" rx="18" ry="16.5" fill="none" stroke="#0a0a0a" stroke-width="2.4"/>
<text x="579" y="630.5" font-size="11.4" text-anchor="middle" font-weight="normal" fill="#2b2b2b">X (mm)</text>
<text transform="translate(413 466.5) rotate(-90)" font-size="11.4" text-anchor="middle" fill="#2b2b2b">Y (mm)</text>
<rect x="725.5" y="330.5" width="20" height="270" fill="url(#cbv)" stroke="#3a3a3a" stroke-width="1"/>
<line x1="745.5" y1="348" x2="742.5" y2="348" stroke="#3a3a3a" stroke-width="1"/>
<text x="749.5" y="351.4" font-size="9.5" text-anchor="start" font-weight="normal" fill="#2b2b2b">0.03</text>
<line x1="745.5" y1="378" x2="742.5" y2="378" stroke="#3a3a3a" stroke-width="1"/>
<text x="749.5" y="381.4" font-size="9.5" text-anchor="start" font-weight="normal" fill="#2b2b2b">0.025</text>
<line x1="745.5" y1="407.5" x2="742.5" y2="407.5" stroke="#3a3a3a" stroke-width="1"/>
<text x="749.5" y="410.9" font-size="9.5" text-anchor="start" font-weight="normal" fill="#2b2b2b">0.02</text>
<line x1="745.5" y1="437" x2="742.5" y2="437" stroke="#3a3a3a" stroke-width="1"/>
<text x="749.5" y="440.4" font-size="9.5" text-anchor="start" font-weight="normal" fill="#2b2b2b">0.015</text>
<line x1="745.5" y1="467" x2="742.5" y2="467" stroke="#3a3a3a" stroke-width="1"/>
<text x="749.5" y="470.4" font-size="9.5" text-anchor="start" font-weight="normal" fill="#2b2b2b">0.01</text>
<line x1="745.5" y1="496.5" x2="742.5" y2="496.5" stroke="#3a3a3a" stroke-width="1"/>
<text x="749.5" y="499.9" font-size="9.5" text-anchor="start" font-weight="normal" fill="#2b2b2b">0.005</text>
<line x1="745.5" y1="526" x2="742.5" y2="526" stroke="#3a3a3a" stroke-width="1"/>
<text x="749.5" y="529.4" font-size="9.5" text-anchor="start" font-weight="normal" fill="#2b2b2b">0</text>
<line x1="745.5" y1="556" x2="742.5" y2="556" stroke="#3a3a3a" stroke-width="1"/>
<text x="749.5" y="559.4" font-size="9.5" text-anchor="start" font-weight="normal" fill="#2b2b2b">-0.005</text>
<line x1="745.5" y1="585.5" x2="742.5" y2="585.5" stroke="#3a3a3a" stroke-width="1"/>
<text x="749.5" y="588.9" font-size="9.5" text-anchor="start" font-weight="normal" fill="#2b2b2b">-0.01</text>
<text x="387.8" y="341" font-size="21" text-anchor="start" font-weight="bold" fill="#000" stroke="#000" stroke-width="0.3">d</text>
</svg></body></html>
